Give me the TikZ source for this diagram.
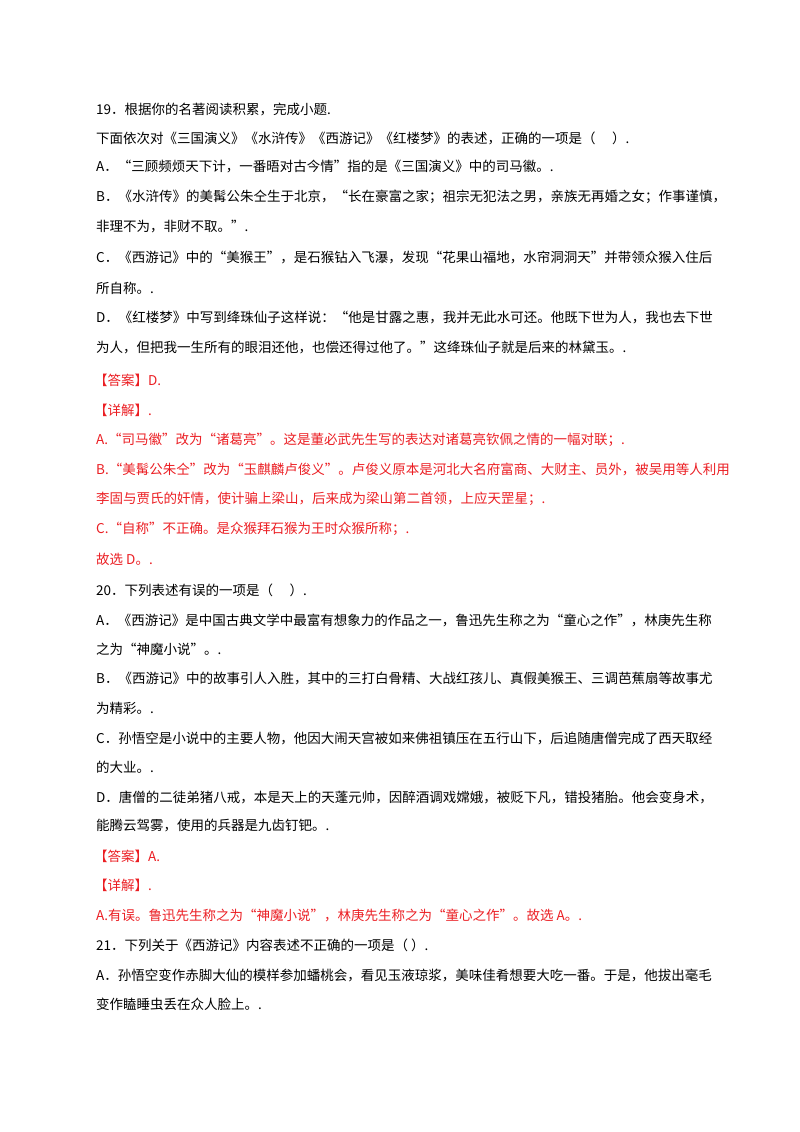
\documentclass[tikz,border=0pt]{standalone}
\usepackage{fontspec}
\newfontfamily\cjk{Noto Sans CJK SC}
\definecolor{ansred}{RGB}{235,30,35}
\tikzset{line/.style={anchor=west,inner sep=0pt,font=\cjk\fontsize{13.5}{16}\selectfont},
  red line/.style={line,text=ansred}}

\begin{document}
\begin{tikzpicture}[x=1pt,y=-1pt]
\useasboundingbox (0,0) rectangle (800,1132);
\node[line]     (q19)   at (96,109)  {19．根据你的名著阅读积累，完成小题.};
\node[line]     (stem)  at (96,138)  {下面依次对《三国演义》《水浒传》《西游记》《红楼梦》的表述，正确的一项是（\quad\ ）.};
\node[line]     (a1)    at (96,167)  {A．“三顾频烦天下计，一番晤对古今情”指的是《三国演义》中的司马徽。.};
\node[line]     (b1)    at (96,197)  {B．《水浒传》的美髯公朱仝生于北京，“长在豪富之家；祖宗无犯法之男，亲族无再婚之女；作事谨慎，};
\node[line]     (b2)    at (96,227)  {非理不为，非财不取。”.};
\node[line]     (c1)    at (96,258)  {C．《西游记》中的“美猴王”，是石猴钻入飞瀑，发现“花果山福地，水帘洞洞天”并带领众猴入住后};
\node[line]     (c2)    at (96,288)  {所自称。.};
\node[line]     (d1)    at (96,318)  {D．《红楼梦》中写到绛珠仙子这样说：“他是甘露之惠，我并无此水可还。他既下世为人，我也去下世};
\node[line]     (d2)    at (96,348)  {为人，但把我一生所有的眼泪还他，也偿还得过他了。”这绛珠仙子就是后来的林黛玉。.};
\node[red line] (ans1)  at (94,380)  {【答案】D.};
\node[red line] (exp1)  at (94,410)  {【详解】.};
\node[red line] (ea)    at (96,440)  {A.“司马徽”改为“诸葛亮”。这是董必武先生写的表达对诸葛亮钦佩之情的一幅对联；.};
\node[red line] (eb1)   at (96,469)  {B.“美髯公朱仝”改为“玉麒麟卢俊义”。卢俊义原本是河北大名府富商、大财主、员外，被吴用等人利用};
\node[red line] (eb2)   at (96,499)  {李固与贾氏的奸情，使计骗上梁山，后来成为梁山第二首领，上应天罡星；.};
\node[red line] (ec)    at (96,529)  {C.“自称”不正确。是众猴拜石猴为王时众猴所称；.};
\node[red line] (sel1)  at (96,559)  {故选 D。.};
\node[line]     (q20)   at (96,590)  {20．下列表述有误的一项是（\quad\ ）.};
\node[line]     (a20)   at (96,620)  {A．《西游记》是中国古典文学中最富有想象力的作品之一，鲁迅先生称之为“童心之作”，林庚先生称};
\node[line]     (a20b)  at (96,649)  {之为“神魔小说”。.};
\node[line]     (b20)   at (96,679)  {B．《西游记》中的故事引人入胜，其中的三打白骨精、大战红孩儿、真假美猴王、三调芭蕉扇等故事尤};
\node[line]     (b20b)  at (96,708)  {为精彩。.};
\node[line]     (c20)   at (96,738)  {C．孙悟空是小说中的主要人物，他因大闹天宫被如来佛祖镇压在五行山下，后追随唐僧完成了西天取经};
\node[line]     (c20b)  at (96,767)  {的大业。.};
\node[line]     (d20)   at (96,797)  {D．唐僧的二徒弟猪八戒，本是天上的天蓬元帅，因醉酒调戏嫦娥，被贬下凡，错投猪胎。他会变身术，};
\node[line]     (d20b)  at (96,826)  {能腾云驾雾，使用的兵器是九齿钉钯。.};
\node[red line] (ans2)  at (94,856)  {【答案】A.};
\node[red line] (exp2)  at (94,885)  {【详解】.};
\node[red line] (ea20)  at (96,915)  {A.有误。鲁迅先生称之为“神魔小说”，林庚先生称之为“童心之作”。故选 A。.};
\node[line]     (q21)   at (96,945)  {21．下列关于《西游记》内容表述不正确的一项是（\ ）.};
\node[line]     (a21)   at (96,975)  {A．孙悟空变作赤脚大仙的模样参加蟠桃会，看见玉液琼浆，美味佳肴想要大吃一番。于是，他拔出毫毛};
\node[line]     (a21b)  at (96,1004) {变作瞌睡虫丢在众人脸上。.};
\end{tikzpicture}
\end{document}
